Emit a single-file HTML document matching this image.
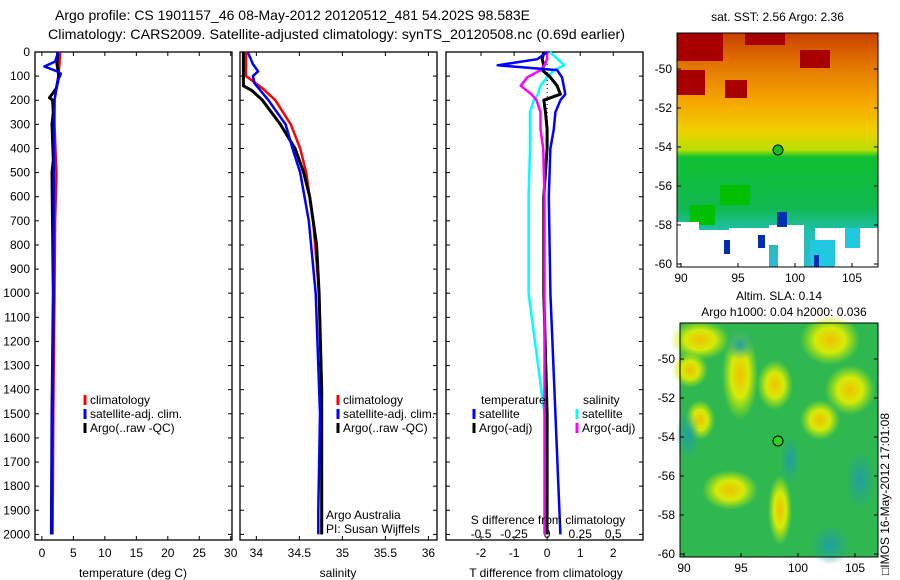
<!DOCTYPE html>
<html><head><meta charset="utf-8">
<style>
html,body{margin:0;padding:0;background:#fff;}
svg{display:block;font-family:"Liberation Sans",Arial,sans-serif;}
text{font-size:12px;fill:#000;}
</style></head>
<body>
<svg id="fig" width="900" height="580" viewBox="0 0 900 580" xmlns="http://www.w3.org/2000/svg">
<defs>
<linearGradient id="sstg" x1="0" y1="0" x2="0" y2="1">
<stop offset="0" stop-color="#c84000"/><stop offset="0.12" stop-color="#e07000"/>
<stop offset="0.3" stop-color="#f6a800"/><stop offset="0.42" stop-color="#f0d000"/>
<stop offset="0.5" stop-color="#b8e000"/><stop offset="0.53" stop-color="#10c030"/>
<stop offset="0.75" stop-color="#10b850"/><stop offset="0.85" stop-color="#20c0b0"/>
<stop offset="1" stop-color="#30b8d0"/></linearGradient>
<radialGradient id="yb"><stop offset="0" stop-color="#f0c000"/><stop offset="0.5" stop-color="#e8f000" stop-opacity="0.9"/><stop offset="1" stop-color="#c0f000" stop-opacity="0"/></radialGradient>
<radialGradient id="cb"><stop offset="0" stop-color="#20a0a0"/><stop offset="1" stop-color="#20a0a0" stop-opacity="0"/></radialGradient>
</defs>
<text x="55" y="20" textLength="475" lengthAdjust="spacingAndGlyphs" style="font-size:14px">Argo profile: CS 1901157_46 08-May-2012 20120512_481 54.202S 98.583E</text>
<text x="48" y="39" textLength="577" lengthAdjust="spacingAndGlyphs" style="font-size:14px">Climatology: CARS2009. Satellite-adjusted climatology: synTS_20120508.nc (0.69d earlier)</text>
<g id="panels"></g>
<g id="maps"></g>
<text transform="translate(889,575) rotate(-90)" style="font-size:12px">□IMOS 16-May-2012 17:01:08</text>
</svg>
<script>
const NS="http://www.w3.org/2000/svg";
function mk(tag,attrs,parent){const e=document.createElementNS(NS,tag);for(const k in attrs)e.setAttribute(k,attrs[k]);parent.appendChild(e);return e;}
function txt(s,attrs,parent){const e=mk('text',attrs,parent);e.textContent=s;return e;}

// ---------- data ----------
const depthTicks=[0,100,200,300,400,500,600,700,800,900,1000,1100,1200,1300,1400,1500,1600,1700,1800,1900,2000];
const tempTicks=[0,5,10,15,20,25,30];
const salTicks=[34,34.5,35,35.5,36];
const salTickLabels=["34","34.5","35","35.5","36"];
const tdiffTicks=[-2,-1,0,1,2];
const sdiffTickLabels=["-0.5","-0.25","0","0.25","0.5"];

const tClimDepth=[0,50,100,150,200,300,500,520,700,1000,1500,2000];
const tClimVal=[2.9,2.8,2.6,2.3,2.0,2.0,2.3,2.3,2.1,2.0,1.8,1.7];
const tSatDepth=[0,40,60,80,90,120,200,300,500,1000,1500,2000];
const tSatVal=[2.6,2.1,0.4,2.4,3.0,2.5,2.0,1.9,1.9,1.8,1.6,1.5];
const tArgoDepth=[0,50,100,150,190,200,250,300,450,500,1000,1500,2000];
const tArgoVal=[2.5,2.4,2.7,2.3,1.2,1.7,1.8,1.6,1.8,1.6,1.8,1.6,1.5];

const sClimDepth=[0,100,150,200,300,400,500,700,1000,1400,2000];
const sClimVal=[33.88,33.88,34.07,34.22,34.4,34.51,34.58,34.66,34.73,34.76,34.76];
const sSatDepth=[0,50,80,100,130,200,300,400,500,700,1000,1500,1900,2000];
const sSatVal=[33.9,33.96,34.02,33.96,33.98,34.14,34.34,34.42,34.51,34.61,34.69,34.74,34.72,34.72];
const sArgoDepth=[0,140,160,200,300,400,500,600,800,1000,1400,2000];
const sArgoVal=[33.85,33.85,33.95,34.07,34.28,34.45,34.55,34.62,34.7,34.73,34.76,34.76];

const dDepth=[0,30,55,75,105,140,175,200,250,320,400,600,1000,1500,2000];
const dTSat=[0.0,-0.3,-1.5,0.3,0.45,0.5,0.55,0.4,0.25,0.2,0.1,0.05,0.1,0.25,0.4];
const dTArgo=[-0.1,-0.15,-0.1,-0.15,0.1,0.3,0.4,-0.1,-0.05,0.0,0.0,-0.1,-0.1,0.0,0.0];
const dSSat=[0.02,0.08,0.13,0.05,0.0,-0.05,-0.07,-0.1,-0.13,-0.13,-0.13,-0.14,-0.14,-0.02,0.0];
const dSArgo=[0.0,0.0,-0.02,-0.05,-0.15,-0.2,-0.12,-0.08,-0.05,-0.05,-0.03,-0.02,-0.02,-0.02,-0.02];

// ---------- layout ----------
const yTop=52,yBot=540;
const yS=d=>yTop+d*0.2412;
const panels=[
 {name:'temperature',x0:35,x1:232,min:-1.1,max:30.2},
 {name:'salinity',x0:240,x1:437,min:33.81,max:36.1},
 {name:'difference',x0:446,x1:643,min:-3.06,max:2.9}
];
function xS(p,v){return p.x0+(v-p.min)/(p.max-p.min)*(p.x1-p.x0);}
const G=document.getElementById('panels');

function frame(p,i){
 const g=mk('g',{},G);
 
 
 const r=mk('rect',{x:p.x0,y:yTop,width:p.x1-p.x0,height:yBot-yTop,fill:'none',stroke:'#000','stroke-width':1.3},g);
 
 
 depthTicks.forEach(d=>{
  const y=yS(d);
  mk('line',{x1:p.x0,x2:p.x0+4,y1:y,y2:y,stroke:'#000'},g);
  mk('line',{x1:p.x1,x2:p.x1-4,y1:y,y2:y,stroke:'#000'},g);
  if(i===0){const t=txt(String(d),{x:p.x0-5,y:y+4,'text-anchor':'end'},g);
   
   }
 });
 return g;
}
function line(p,g,dep,val,color,w,name){
 const pts=dep.map((d,k)=>xS(p,val[k]).toFixed(1)+','+yS(d).toFixed(1)).join(' ');
 const l=mk('polyline',{points:pts,fill:'none',stroke:color,'stroke-width':w,'stroke-linejoin':'round'},g);
 
 
}
function xticks(p,g,vals,labels,y){
 vals.forEach((v,k)=>{const x=xS(p,v);
  mk('line',{x1:x,x2:x,y1:yBot,y2:yBot-4,stroke:'#000'},g);
  mk('line',{x1:x,x2:x,y1:yTop,y2:yTop+4,stroke:'#000'},g);
  const t=txt(labels[k],{x:x,y:y,'text-anchor':'middle'},g);
  
  });
}
function legend(g,x,y,items){
 items.forEach((it,k)=>{
  const yy=y+k*14;
  mk('line',{x1:x,x2:x,y1:yy-9,y2:yy+1,stroke:it[1],'stroke-width':3},g);
  const t=txt(it[0],{x:x+5,y:yy},g);
  
  
 });
}
// panel 1
{const p=panels[0],g=frame(p,0);
 xticks(p,g,tempTicks,tempTicks.map(String),557);
 line(p,g,tClimDepth,tClimVal,'#f00',2.5,'temp-climatology-line');
 line(p,g,tArgoDepth,tArgoVal,'#000',3,'temp-argo-line');
 line(p,g,tSatDepth,tSatVal,'#00f',2.5,'temp-satellite-line');
 const t=txt('temperature (deg C)',{x:133,y:577,'text-anchor':'middle'},g);
 
 legend(g,85,404,[['climatology','#f00'],['satellite-adj. clim.','#00f'],['Argo(..raw -QC)','#000']]);
}
// panel 2
{const p=panels[1],g=frame(p,1);
 xticks(p,g,salTicks,salTickLabels,557);
 line(p,g,sClimDepth,sClimVal,'#f00',2.5,'sal-climatology-line');
 line(p,g,sArgoDepth,sArgoVal,'#000',3,'sal-argo-line');
 line(p,g,sSatDepth,sSatVal,'#00f',2.5,'sal-satellite-line');
 const t=txt('salinity',{x:338,y:577,'text-anchor':'middle'},g);
 
 legend(g,338,404,[['climatology','#f00'],['satellite-adj. clim.','#00f'],['Argo(..raw -QC)','#000']]);
 let a=txt('Argo Australia',{x:326,y:519},g);
 a=txt('PI: Susan Wijffels',{x:326,y:533},g);
}
// panel 3
{const p=panels[2],g=frame(p,2);
 xticks(p,g,tdiffTicks,tdiffTicks.map(String),557);
 tdiffTicks.forEach((v,k)=>{const t=txt(sdiffTickLabels[k],{x:xS(p,v),y:538,'text-anchor':'middle'},g);
  });
 mk('line',{x1:xS(p,0),x2:xS(p,0),y1:yTop,y2:yS(300),stroke:'#000','stroke-dasharray':'1,3'},g);
 const tS=(arr)=>arr.map(v=>v*4);
 line(p,g,dDepth,tS(dSSat),'#0ff',2.5,'sdiff-satellite-line');
 line(p,g,dDepth,dTArgo,'#000',3,'tdiff-argo-line');
 line(p,g,dDepth,tS(dSArgo),'#f0f',2.5,'sdiff-argo-line');
 line(p,g,dDepth,dTSat,'#00f',2.5,'tdiff-satellite-line');
 let t=txt('S difference from climatology',{x:548,y:524,'text-anchor':'middle'},g);
 
 t=txt('T difference from climatology',{x:546,y:577,'text-anchor':'middle'},g);
 
 t=txt('temperature',{x:481,y:404},g);
 t=txt('salinity',{x:583,y:404},g);
 legend(g,474,418,[['satellite','#00f'],['Argo(-adj)','#000']]);
 legend(g,577,418,[['satellite','#0ff'],['Argo(-adj)','#f0f']]);
}

// ---------- maps ----------
const M=document.getElementById('maps');
const lonTicks=[90,95,100,105];
const latTicks=[-50,-52,-54,-56,-58,-60];
function mapAxes(g,x0,x1,y0,y1,latTop,title1,titleY){
 const lx=v=>x0+4+(v-90)*11.4;
 const ly=v=>latTop+(-50-v)*19.5;
 lonTicks.forEach(v=>{const x=lx(v);mk('line',{x1:x,x2:x,y1:y1,y2:y1-4,stroke:'#000'},g);
  const t=txt(String(v),{x:x,y:y1+15,'text-anchor':'middle'},g);});
 latTicks.forEach(v=>{const y=ly(v);mk('line',{x1:x0,x2:x0+4,y1:y,y2:y,stroke:'#000'},g);mk('line',{x1:x1,x2:x1-4,y1:y,y2:y,stroke:'#000'},g);
  const t=txt(String(v),{x:x0-5,y:y+4,'text-anchor':'end'},g);});
 mk('rect',{x:x0,y:y0,width:x1-x0,height:y1-y0,fill:'none',stroke:'#000'},g);
 const t=txt(title1,{x:(x0+x1)/2,y:titleY,'text-anchor':'middle'},g);
}
// SST map
{const g=mk('g',{},M);
 mk('rect',{x:677,y:33,width:201,height:234,fill:'url(#sstg)'},g);
 [[677,33,46,28],[677,70,28,25],[725,80,22,18],[745,33,40,12],[800,50,30,18]].forEach(r=>mk('rect',{x:r[0],y:r[1],width:r[2],height:r[3],fill:'#a80000'},g));
 [[720,185,30,20],[690,205,25,20]].forEach(r=>mk('rect',{x:r[0],y:r[1],width:r[2],height:r[3],fill:'#00c000'},g));
 [[677,222,22,45],[699,230,30,37],[729,228,40,39],[769,225,35,20],[778,245,26,22],[815,228,63,39]].forEach(r=>mk('rect',{x:r[0],y:r[1],width:r[2],height:r[3],fill:'#fff'},g));
 [[810,240,25,27],[845,228,15,20]].forEach(r=>mk('rect',{x:r[0],y:r[1],width:r[2],height:r[3],fill:'#20c8e0'},g));
 [[777,212,10,15],[724,240,6,14],[758,235,7,13],[814,255,5,12]].forEach(r=>mk('rect',{x:r[0],y:r[1],width:r[2],height:r[3],fill:'#0030b0'},g));
 mapAxes(g,677,878,33,267,69,'sat. SST: 2.56 Argo: 2.36',21);
 const c=mk('circle',{cx:778,cy:150,r:5,fill:'#10c020',stroke:'#000'},g);
 
}
// SLA map
{const g=mk('g',{},M);
 mk('rect',{x:680,y:323,width:198,height:234,fill:'#30b850'},g);
 [[700,340,30,20],[740,375,18,45],[690,370,18,18],[775,385,18,25],[830,340,30,25],[850,390,25,25],[730,490,28,20],[780,510,12,35],[700,420,15,20],[820,420,20,20]].forEach(e=>mk('ellipse',{cx:e[0],cy:e[1],rx:e[2],ry:e[3],fill:'url(#yb)'},g));
 [[740,345,15,15],[688,435,12,25],[790,460,10,25],[830,545,20,20],[860,480,15,30]].forEach(e=>mk('ellipse',{cx:e[0],cy:e[1],rx:e[2],ry:e[3],fill:'url(#cb)'},g));
 mapAxes(g,680,878,323,557,359,'Altim. SLA: 0.14',300);
 const t=txt('Argo h1000: 0.04 h2000: 0.036',{x:784,y:316,'text-anchor':'middle'},g);
 
 const c=mk('circle',{cx:778,cy:441,r:5,fill:'#30d020',stroke:'#000'},g);
 
}
</script>
</body></html>
